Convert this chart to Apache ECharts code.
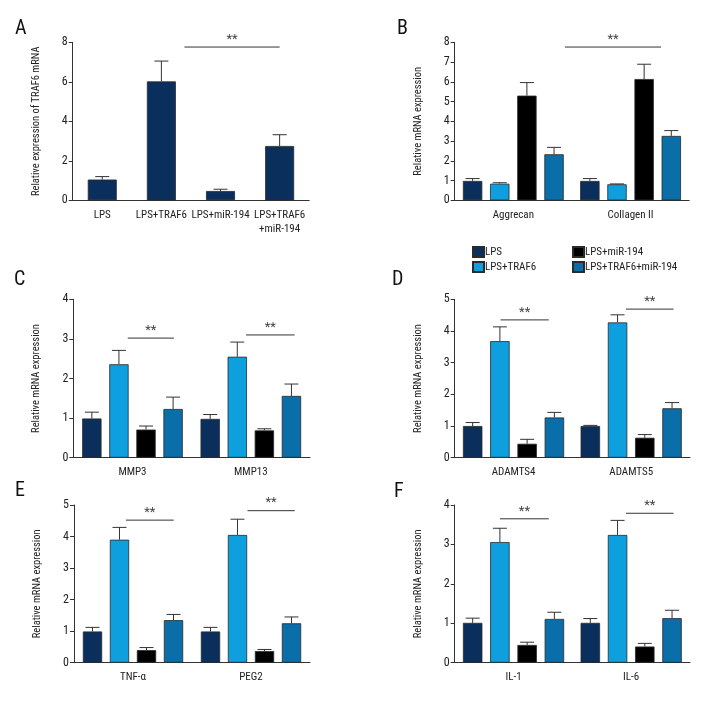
<!DOCTYPE html>
<html><head><meta charset="utf-8">
<script src="https://cdn.jsdelivr.net/npm/echarts@6/dist/echarts.min.js"></script>
<style>html,body{margin:0;padding:0;background:#fff}#c{width:720px;height:720px}</style>
</head><body><div id="c"></div>
<script>
// ---------------- DATA ----------------
const groupNames = ['LPS', 'LPS+TRAF6', 'LPS+miR-194', 'LPS+TRAF6+miR-194'];

// Panel A
const aCategories = ['LPS', 'LPS+TRAF6', 'LPS+miR-194', 'LPS+TRAF6\n+miR-194'];
const aValues = [1.05, 6.02, 0.47, 2.75];
const aSD     = [0.15, 1.03, 0.09, 0.57];
const aSig = [[1.39, 3.0, 7.76]];
const aTicks = [0, 8, 2];

// Panel B
const bCategories = ['Aggrecan', 'Collagen II'];
const bLPS = [0.98, 0.98],  bLPS_sd = [0.12, 0.12];
const bTRAF6 = [0.84, 0.81], bTRAF6_sd = [0.05, 0.02];
const bMiR = [5.30, 6.14],  bMiR_sd = [0.66, 0.75];
const bBoth = [2.33, 3.26], bBoth_sd = [0.35, 0.27];
const bSig = [[0.44, 1.26, 7.76]];
const bTicks = [0, 8, 1];

// Panel C
const cCategories = ['MMP3', 'MMP13'];
const cLPS = [0.99, 0.98],  cLPS_sd = [0.16, 0.11];
const cTRAF6 = [2.36, 2.55], cTRAF6_sd = [0.35, 0.37];
const cMiR = [0.71, 0.69],  cMiR_sd = [0.09, 0.04];
const cBoth = [1.23, 1.56], cBoth_sd = [0.30, 0.30];
const cSig = [[-0.04, 0.35, 3.02], [0.96, 1.37, 3.10]];
const cTicks = [0, 4, 1];

// Panel D
const dCategories = ['ADAMTS4', 'ADAMTS5'];
const dLPS = [1.00, 1.00],  dLPS_sd = [0.11, 0.02];
const dTRAF6 = [3.68, 4.27], dTRAF6_sd = [0.45, 0.24];
const dMiR = [0.44, 0.63],  dMiR_sd = [0.14, 0.10];
const dBoth = [1.27, 1.56], dBoth_sd = [0.16, 0.18];
const dSig = [[-0.11, 0.30, 4.35], [0.956, 1.36, 4.69]];
const dTicks = [0, 5, 1];

// Panel E
const eCategories = ['TNF-α', 'PEG2'];
const eLPS = [0.99, 0.99],  eLPS_sd = [0.13, 0.13];
const eTRAF6 = [3.90, 4.05], eTRAF6_sd = [0.39, 0.50];
const eMiR = [0.40, 0.37],  eMiR_sd = [0.08, 0.05];
const eBoth = [1.35, 1.25], eBoth_sd = [0.18, 0.20];
const eSig = [[-0.06, 0.345, 4.52], [0.97, 1.37, 4.82]];
const eTicks = [0, 5, 1];

// Panel F
const fCategories = ['IL-1', 'IL-6'];
const fLPS = [1.01, 1.01],  fLPS_sd = [0.12, 0.11];
const fTRAF6 = [3.06, 3.24], fTRAF6_sd = [0.35, 0.37];
const fMiR = [0.45, 0.41],  fMiR_sd = [0.07, 0.08];
const fBoth = [1.11, 1.13], fBoth_sd = [0.17, 0.20];
const fSig = [[-0.115, 0.30, 3.65], [0.956, 1.36, 3.79]];
const fTicks = [0, 4, 1];

// ---------------- STYLE / LAYOUT ----------------
const FONT = '"Roboto Condensed","DejaVu Sans Condensed",sans-serif';
const COLORS = ['#0b2f5c', '#0e9fdf', '#000000', '#0a6ea8'];
const AXIS = '#333';

function grouped(lps, lpsSd, tr, trSd, mi, miSd, bo, boSd) {
  return [[lps, lpsSd], [tr, trSd], [mi, miSd], [bo, boSd]].map((p, i) => ({
    name: groupNames[i], values: p[0], sd: p[1], color: COLORS[i]
  }));
}

const panels = [
  { letter: 'A', lx: 15, ly: 19, grid: { left: 72.7, top: 42.3, width: 236.5, height: 158 },
    cats: aCategories, ticks: aTicks, yName: 'Relative expression of TRAF6 mRNA',
    series: [{ name: 'TRAF6 mRNA', values: aValues, sd: aSD, color: COLORS[0] }],
    sig: aSig, catGap: 0.51, barGap: 0 },
  { letter: 'B', lx: 397, ly: 19, grid: { left: 454.7, top: 42.3, width: 234.5, height: 158 },
    cats: bCategories, ticks: bTicks, yName: 'Relative mRNA expression',
    series: grouped(bLPS, bLPS_sd, bTRAF6, bTRAF6_sd, bMiR, bMiR_sd, bBoth, bBoth_sd),
    sig: bSig, catGap: 0.14, barGap: 0.4 },
  { letter: 'C', lx: 14, ly: 270, grid: { left: 73.3, top: 299.3, width: 236.7, height: 158.4 },
    cats: cCategories, ticks: cTicks, yName: 'Relative mRNA expression',
    series: grouped(cLPS, cLPS_sd, cTRAF6, cTRAF6_sd, cMiR, cMiR_sd, cBoth, cBoth_sd),
    sig: cSig, catGap: 0.15, barGap: 0.4 },
  { letter: 'D', lx: 392, ly: 270, grid: { left: 454.7, top: 299.3, width: 235.3, height: 158.4 },
    cats: dCategories, ticks: dTicks, yName: 'Relative mRNA expression',
    series: grouped(dLPS, dLPS_sd, dTRAF6, dTRAF6_sd, dMiR, dMiR_sd, dBoth, dBoth_sd),
    sig: dSig, catGap: 0.14, barGap: 0.4 },
  { letter: 'E', lx: 15, ly: 481, grid: { left: 74, top: 505, width: 236, height: 157.7 },
    cats: eCategories, ticks: eTicks, yName: 'Relative mRNA expression',
    series: grouped(eLPS, eLPS_sd, eTRAF6, eTRAF6_sd, eMiR, eMiR_sd, eBoth, eBoth_sd),
    sig: eSig, catGap: 0.15, barGap: 0.4 },
  { letter: 'F', lx: 394, ly: 482, grid: { left: 454.7, top: 505, width: 235.3, height: 157.7 },
    cats: fCategories, ticks: fTicks, yName: 'Relative mRNA expression',
    series: grouped(fLPS, fLPS_sd, fTRAF6, fTRAF6_sd, fMiR, fMiR_sd, fBoth, fBoth_sd),
    sig: fSig, catGap: 0.14, barGap: 0.4 }
];

const grids = [], xAxes = [], yAxes = [], series = [], graphics = [];

panels.forEach((p, gi) => {
  grids.push(Object.assign({ containLabel: false }, p.grid));
  xAxes.push({
    type: 'category', gridIndex: gi, data: p.cats,
    axisLine: { lineStyle: { color: AXIS, width: 1 } },
    axisTick: { alignWithLabel: true, length: 4, lineStyle: { color: AXIS } },
    axisLabel: { color: '#222', fontSize: 11, fontFamily: FONT, margin: 8, interval: 0, lineHeight: 14 }
  });
  yAxes.push({
    type: 'value', gridIndex: gi, min: p.ticks[0], max: p.ticks[1], interval: p.ticks[2],
    splitLine: { show: false },
    axisLine: { show: true, lineStyle: { color: AXIS, width: 1 } },
    axisTick: { show: true, length: 4, lineStyle: { color: AXIS } },
    axisLabel: { color: '#222', fontSize: 12, fontFamily: FONT, margin: 5 },
    name: p.yName, nameLocation: 'middle', nameGap: 31,
    nameTextStyle: { color: '#222', fontSize: 10.5, fontFamily: FONT }
  });
  const n = p.series.length;
  p.series.forEach((s, si) => {
    series.push({
      type: 'bar', name: s.name, xAxisIndex: gi, yAxisIndex: gi, data: s.values,
      barCategoryGap: (p.catGap * 100) + '%', barGap: (p.barGap * 100) + '%',
      itemStyle: { color: s.color, borderColor: '#2a2a2a', borderWidth: 0.8 },
      z: 2, animation: false
    });
    series.push({
      type: 'custom', name: s.name + ' err', xAxisIndex: gi, yAxisIndex: gi, z: 3,
      silent: true, animation: false,
      data: s.values.map((v, k) => [k, v, s.sd[k]]),
      encode: { x: 0, y: 1 },
      renderItem: (params, api) => {
        const bw = api.size([1, 0])[0];
        const gw = bw * (1 - p.catGap);
        const w = gw / (n + (n - 1) * p.barGap);
        const off = -gw / 2 + w / 2 + si * w * (1 + p.barGap);
        const base = api.coord([api.value(0), api.value(1)]);
        const top = api.coord([api.value(0), api.value(1) + api.value(2)]);
        const x = base[0] + off;
        const cap = Math.min(14, w * 0.8);
        return { type: 'group', children: [
          { type: 'line', shape: { x1: x, y1: base[1], x2: x, y2: top[1] }, style: { stroke: '#333', lineWidth: 1 } },
          { type: 'line', shape: { x1: x - cap / 2, y1: top[1], x2: x + cap / 2, y2: top[1] }, style: { stroke: '#333', lineWidth: 1 } }
        ] };
      }
    });
  });
  series.push({
    type: 'custom', name: 'sig' + gi, xAxisIndex: gi, yAxisIndex: gi, z: 4,
    silent: true, animation: false,
    dimensions: ['c', 'y', 's', 'e'],
    data: p.sig.map(s => [0, s[2], s[0], s[1]]),
    encode: { x: 0, y: 1 },
    renderItem: (params, api) => {
      const bw = api.size([1, 0])[0];
      const pt = api.coord([0, api.value(1)]);
      const x1 = pt[0] + api.value(2) * bw, x2 = pt[0] + api.value(3) * bw;
      return { type: 'group', children: [
        { type: 'line', shape: { x1: x1, y1: pt[1], x2: x2, y2: pt[1] }, style: { stroke: '#333', lineWidth: 1 } },
        { type: 'text', style: { text: '**', x: (x1 + x2) / 2, y: pt[1] - 1, align: 'center', verticalAlign: 'bottom',
          fontSize: 13, fontFamily: FONT, fill: '#444' } }
      ] };
    }
  });
  graphics.push({ type: 'text', left: p.lx, top: p.ly,
    style: { text: p.letter, fontSize: 20, fontFamily: FONT, fill: '#111' } });
});

const legendCommon = {
  orient: 'vertical', itemGap: 3, itemWidth: 11, itemHeight: 10, icon: 'rect', padding: 0,
  textStyle: { fontSize: 11, fontFamily: FONT, color: '#222', padding: [0, 0, 0, -4] }
};

const option = {
  animation: false,
  backgroundColor: '#fff',
  grid: grids, xAxis: xAxes, yAxis: yAxes, series: series,
  legend: [
    Object.assign({ left: 472, top: 246, data: groupNames.slice(0, 2) }, legendCommon),
    Object.assign({ left: 572, top: 246, data: groupNames.slice(2, 4) }, legendCommon)
  ],
  graphic: graphics
};

const chart = echarts.init(document.getElementById('c'), null, { renderer: 'canvas' });
chart.setOption(option);
</script>
</body></html>
